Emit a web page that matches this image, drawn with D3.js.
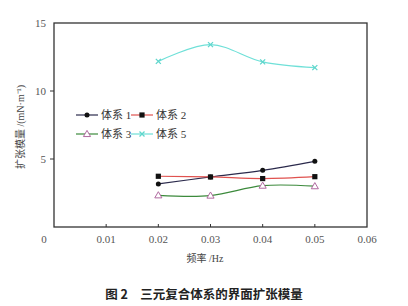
<!DOCTYPE html>
<html>
<head>
<meta charset="utf-8">
<script src="https://cdn.jsdelivr.net/npm/d3@7"></script>
<style>
  body { margin: 0; background: #fff; }
  svg text { font-family: "Liberation Serif", "Noto Sans CJK SC", serif; }
</style>
</head>
<body>
<svg id="chart" width="408" height="306"></svg>
<script>
// data
const freqs = [0.02, 0.03, 0.04, 0.05];
const sys1 = [3.17, 3.68, 4.17, 4.83];
const sys2 = [3.73, 3.68, 3.56, 3.70];
const sys3 = [2.33, 2.31, 3.04, 3.00];
const sys5 = [12.18, 13.41, 12.14, 11.72];
const seriesNames = ["体系 1", "体系 2", "体系 3", "体系 5"];
const xTicks = [0, 0.01, 0.02, 0.03, 0.04, 0.05, 0.06];
const yTicks = [5, 10, 15];

const series = [
  { name: seriesNames[0], values: sys1, line: "#2b2a4c", marker: "circle", mfill: "#111" },
  { name: seriesNames[1], values: sys2, line: "#e0524f", marker: "square", mfill: "#111" },
  { name: seriesNames[2], values: sys3, line: "#3c8a3c", marker: "triangle", mfill: "#fff", mstroke: "#b06aa0" },
  { name: seriesNames[3], values: sys5, line: "#6fe0d8", marker: "cross", mstroke: "#5fd6cc" }
];

const svg = d3.select("#chart");
const mLeft = 54, mRight = 367, mTop = 23, mBottom = 227;

const x = d3.scaleLinear().domain([0, 0.06]).range([mLeft, mRight]);
const y = d3.scaleLinear().domain([0, 15]).range([mBottom, mTop]);

// frame
svg.append("rect")
  .attr("x", mLeft).attr("y", mTop)
  .attr("width", mRight - mLeft).attr("height", mBottom - mTop)
  .attr("fill", "none").attr("stroke", "#333").attr("stroke-width", 1.3);

// x ticks (inside) and labels
xTicks.forEach(t => {
  if (t > 0 && t < 0.06) {
    svg.append("line")
      .attr("x1", x(t)).attr("x2", x(t))
      .attr("y1", mBottom).attr("y2", mBottom - 3)
      .attr("stroke", "#333");
  }
  svg.append("text")
    .attr("x", t === 0 ? x(t) - 10 : x(t))
    .attr("y", 243)
    .attr("text-anchor", "middle")
    .attr("font-size", 11)
    .attr("fill", "#555")
    .text(t === 0 ? "0" : d3.format(".2f")(t));
});

// y ticks (outside) and labels
yTicks.forEach(t => {
  if (t < 15) {
    svg.append("line")
      .attr("x1", mLeft - 4).attr("x2", mLeft)
      .attr("y1", y(t)).attr("y2", y(t))
      .attr("stroke", "#333");
  }
  svg.append("text")
    .attr("x", mLeft - 8)
    .attr("y", y(t) + 4)
    .attr("text-anchor", "end")
    .attr("font-size", 11)
    .attr("fill", "#555")
    .text(t);
});

// axis titles
svg.append("text")
  .attr("transform", "translate(24,127) rotate(-90)")
  .attr("text-anchor", "middle")
  .attr("font-size", 10)
  .attr("fill", "#444")
  .text("扩张模量 /(mN·m⁻¹)");

svg.append("text")
  .attr("x", 205).attr("y", 262)
  .attr("text-anchor", "middle")
  .attr("font-size", 10)
  .attr("fill", "#444")
  .text("频率 /Hz");

svg.append("text")
  .attr("x", 204).attr("y", 299)
  .attr("text-anchor", "middle")
  .attr("font-size", 12.5)
  .attr("font-weight", "bold")
  .attr("fill", "#222")
  .style("font-family", "'Noto Sans CJK SC', sans-serif")
  .text("图 2　三元复合体系的界面扩张模量");

function drawMarker(g, s, cx, cy) {
  if (s.marker === "circle") {
    g.append("circle").attr("cx", cx).attr("cy", cy).attr("r", 2.5).attr("fill", s.mfill);
  } else if (s.marker === "square") {
    g.append("rect").attr("x", cx - 2.6).attr("y", cy - 2.6)
      .attr("width", 5.2).attr("height", 5.2).attr("fill", s.mfill);
  } else if (s.marker === "triangle") {
    g.append("path")
      .attr("d", d3.symbol(d3.symbolTriangle, 22)())
      .attr("transform", `translate(${cx},${cy + 0.5})`)
      .attr("fill", s.mfill).attr("stroke", s.mstroke).attr("stroke-width", 1);
  } else {
    g.append("path")
      .attr("d", `M${cx - 2.5},${cy - 2.5}L${cx + 2.5},${cy + 2.5}M${cx - 2.5},${cy + 2.5}L${cx + 2.5},${cy - 2.5}`)
      .attr("stroke", s.mstroke).attr("stroke-width", 1.3);
  }
}

const line = d3.line()
  .x((d, i) => x(freqs[i]))
  .y(d => y(d))
  .curve(d3.curveCatmullRom.alpha(0.5));

series.forEach(s => {
  const g = svg.append("g");
  g.append("path")
    .datum(s.values)
    .attr("d", line)
    .attr("fill", "none")
    .attr("stroke", s.line)
    .attr("stroke-width", 1.2);
  s.values.forEach((v, i) => drawMarker(g, s, x(freqs[i]), y(v)));
});

// legend
const legPos = [[76, 115], [131, 115], [76, 134], [131, 134]];
series.forEach((s, i) => {
  const [lx, ly] = legPos[i];
  const g = svg.append("g");
  g.append("line")
    .attr("x1", lx).attr("x2", lx + 22)
    .attr("y1", ly).attr("y2", ly)
    .attr("stroke", s.line).attr("stroke-width", 1.2);
  drawMarker(g, s, lx + 11, ly);
  g.append("text")
    .attr("x", lx + 25).attr("y", ly + 4)
    .attr("font-size", 11)
    .attr("fill", "#333")
    .text(s.name);
});
</script>
</body>
</html>
